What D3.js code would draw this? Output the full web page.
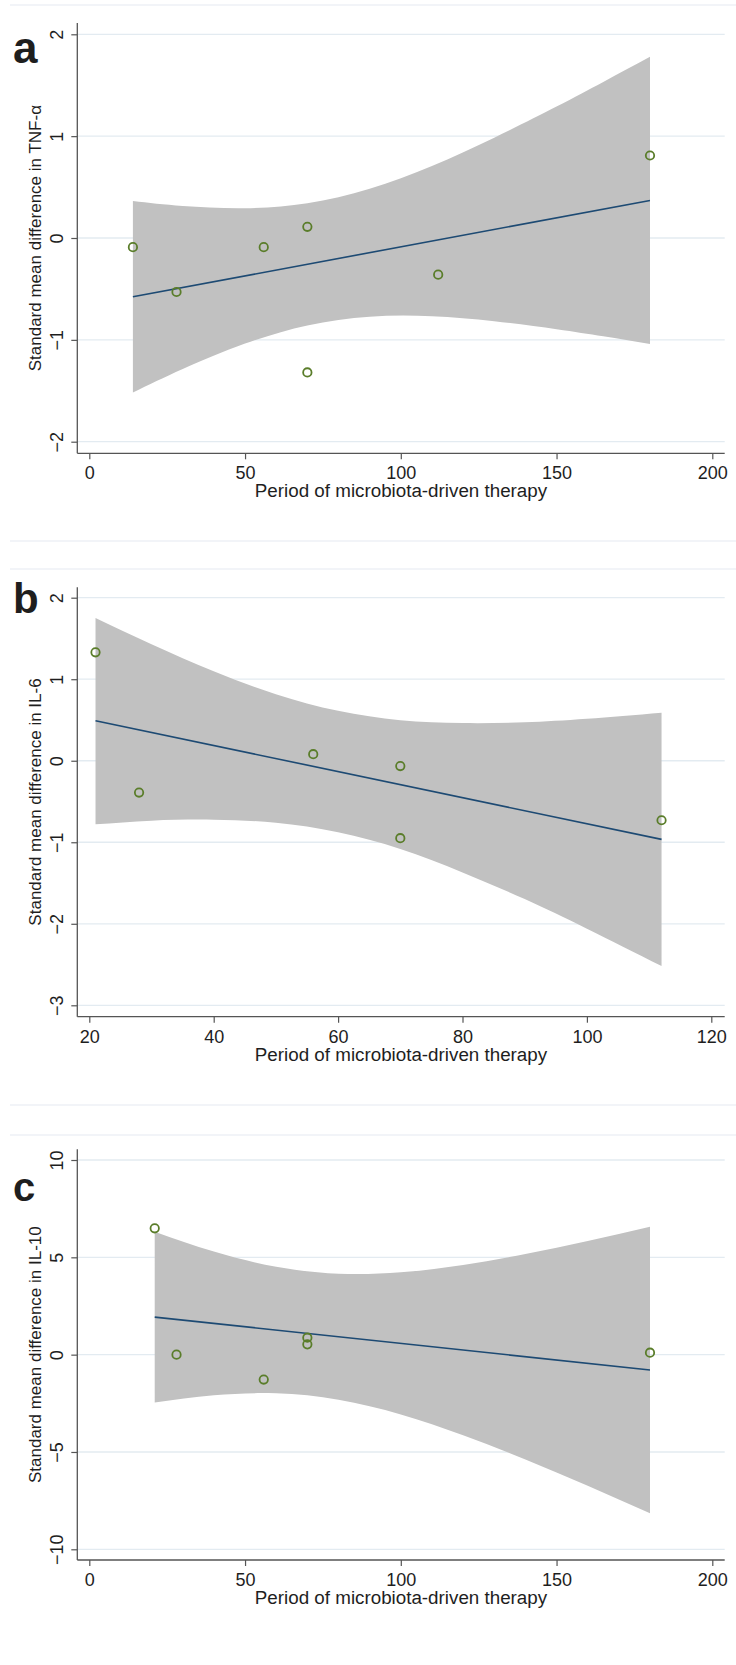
<!DOCTYPE html>
<html>
<head>
<meta charset="utf-8">
<script src="https://cdn.jsdelivr.net/npm/d3@7"></script>
<style>
  body { margin: 0; background: #fff; }
  text { font-family: "Liberation Sans", Arial, sans-serif; fill: #1e1e1e; }
</style>
</head>
<body>
<svg id="chart"></svg>
<script>
// Dimensions
var w = 736;
var h = 1665;

// Panel a: TNF-alpha
var tnfPeriod = [14, 28, 56, 70, 70, 112, 180];
var tnfSmd = [-0.09, -0.53, -0.09, 0.11, -1.32, -0.36, 0.81];
var tnfFitX = [14, 180];
var tnfFitY = [-0.577, 0.369];
var tnfBandX = [14, 30, 50, 70, 90, 110, 130, 150, 165, 180];
var tnfBandUpper = [0.363, 0.314, 0.293, 0.342, 0.484, 0.708, 0.985, 1.291, 1.532, 1.779];
var tnfBandLower = [-1.517, -1.286, -1.037, -0.858, -0.772, -0.768, -0.817, -0.895, -0.965, -1.041];
var tnfXTicks = [0, 50, 100, 150, 200];
var tnfYTicks = [-2, -1, 0, 1, 2];

// Panel b: IL-6
var il6Period = [21, 28, 56, 70, 70, 112];
var il6Smd = [1.33, -0.39, 0.08, -0.065, -0.95, -0.73];
var il6FitX = [21, 112];
var il6FitY = [0.491, -0.965];
var il6BandX = [21, 30, 40, 50, 60, 70, 80, 90, 100, 112];
var il6BandUpper = [1.75, 1.429, 1.097, 0.816, 0.612, 0.497, 0.462, 0.471, 0.514, 0.589];
var il6BandLower = [-0.78, -0.735, -0.723, -0.762, -0.878, -1.083, -1.37, -1.697, -2.06, -2.519];
var il6XTicks = [20, 40, 60, 80, 100, 120];
var il6YTicks = [-3, -2, -1, 0, 1, 2];

// Panel c: IL-10
var il10Period = [21, 28, 56, 70, 70, 180];
var il10Smd = [6.49, 0.0, -1.28, 0.87, 0.53, 0.10];
var il10FitX = [21, 180];
var il10FitY = [1.93, -0.79];
var il10BandX = [21, 40, 60, 80, 100, 120, 140, 160, 180];
var il10BandUpper = [6.315, 5.294, 4.514, 4.157, 4.229, 4.608, 5.172, 5.84, 6.57];
var il10BandLower = [-2.455, -2.084, -1.988, -2.315, -3.071, -4.136, -5.384, -6.736, -8.15];
var il10XTicks = [0, 50, 100, 150, 200];
var il10YTicks = [-10, -5, 0, 5, 10];

var xTitle = "Period of microbiota-driven therapy";

var svg = d3.select('#chart')
    .attr('width', w)
    .attr('height', h);

svg.append('rect').attr('width', w).attr('height', h).attr('fill', '#fff');

// faint separator lines between the stacked figures
[5, 541, 569, 1105, 1135].forEach(function (y) {
    svg.append('line')
        .attr('x1', 10).attr('x2', w)
        .attr('y1', y).attr('y2', y)
        .attr('stroke', '#eef1f6')
        .attr('stroke-width', 1.5);
});

function drawPanel(p) {
    var x = d3.scaleLinear().domain(p.xDomain).range(p.xRange);
    var y = d3.scaleLinear().domain(p.yDomain).range(p.yRange);
    var g = svg.append('g');

    // gridlines
    g.selectAll('.grid').data(p.yTicks).enter()
        .append('line')
        .attr('x1', p.left).attr('x2', p.right)
        .attr('y1', function (d) { return y(d); })
        .attr('y2', function (d) { return y(d); })
        .attr('stroke', '#e3ebf1')
        .attr('stroke-width', 1.3);

    // confidence band
    var band = p.bandX.map(function (v, i) {
        return { x: v, hi: p.bandUpper[i], lo: p.bandLower[i] };
    });
    var area = d3.area()
        .x(function (d) { return x(d.x); })
        .y0(function (d) { return y(d.lo); })
        .y1(function (d) { return y(d.hi); })
        .curve(d3.curveNatural);
    g.append('path').datum(band).attr('d', area).attr('fill', '#c1c1c1');

    // fitted line
    var line = d3.line()
        .x(function (d) { return x(d[0]); })
        .y(function (d) { return y(d[1]); });
    g.append('path')
        .datum(d3.zip(p.fitX, p.fitY))
        .attr('d', line)
        .attr('fill', 'none')
        .attr('stroke', '#1d4a73')
        .attr('stroke-width', 1.6);

    // points
    g.selectAll('.pt').data(d3.zip(p.px, p.py)).enter()
        .append('circle')
        .attr('cx', function (d) { return x(d[0]); })
        .attr('cy', function (d) { return y(d[1]); })
        .attr('r', 4.2)
        .attr('fill', 'none')
        .attr('stroke', '#5a7d2a')
        .attr('stroke-width', 1.8);

    // y axis
    var yAxis = g.append('g')
        .attr('transform', 'translate(' + p.left + ',0)')
        .call(d3.axisLeft(y).tickValues(p.yTicks).tickSize(6).tickFormat(d3.format('d')));
    yAxis.select('.domain').remove();
    yAxis.selectAll('line').attr('stroke', '#555').attr('stroke-width', 1.2);
    yAxis.selectAll('text')
        .attr('transform', 'rotate(-90)')
        .attr('x', 0).attr('y', -14).attr('dy', null)
        .attr('text-anchor', 'middle')
        .style('font-size', '18px')
        .style('font-family', '"Liberation Sans", Arial, sans-serif')
        .attr('fill', '#1e1e1e');

    // x axis
    var xAxis = g.append('g')
        .attr('transform', 'translate(0,' + p.bottom + ')')
        .call(d3.axisBottom(x).tickValues(p.xTicks).tickSize(6).tickFormat(d3.format('d')));
    xAxis.select('.domain').remove();
    xAxis.selectAll('line').attr('stroke', '#555').attr('stroke-width', 1.2);
    xAxis.selectAll('text')
        .attr('y', 26).attr('dy', null)
        .style('font-size', '18px')
        .style('font-family', '"Liberation Sans", Arial, sans-serif')
        .attr('fill', '#1e1e1e');

    // axis lines
    g.append('line')
        .attr('x1', p.left).attr('x2', p.left)
        .attr('y1', p.top).attr('y2', p.bottom)
        .attr('stroke', '#555').attr('stroke-width', 1.3);
    g.append('line')
        .attr('x1', p.left).attr('x2', p.right)
        .attr('y1', p.bottom).attr('y2', p.bottom)
        .attr('stroke', '#555').attr('stroke-width', 1.3);

    // titles
    g.append('text')
        .attr('x', (p.left + p.right) / 2)
        .attr('y', p.bottom + 44)
        .attr('text-anchor', 'middle')
        .style('font-size', '18.8px')
        .text(xTitle);
    g.append('text')
        .attr('transform', 'translate(41,' + (p.top + p.bottom) / 2 + ')rotate(-90)')
        .attr('text-anchor', 'middle')
        .style('font-size', '17px')
        .text(p.yTitle);

    // panel letter
    g.append('text')
        .attr('x', 13).attr('y', p.letterY)
        .style('font-size', p.letterSize + 'px')
        .style('font-weight', 'bold')
        .attr('fill', '#000')
        .text(p.letter);
}

drawPanel({
    letter: 'a', letterY: 63, letterSize: 44,
    top: 23, bottom: 453.3, left: 77.3, right: 724.7,
    xDomain: [0, 200], xRange: [89.3, 712.3],
    yDomain: [-2, 2], yRange: [441.7, 34.3],
    xTicks: tnfXTicks, yTicks: tnfYTicks,
    px: tnfPeriod, py: tnfSmd,
    fitX: tnfFitX, fitY: tnfFitY,
    bandX: tnfBandX, bandUpper: tnfBandUpper, bandLower: tnfBandLower,
    yTitle: 'Standard mean difference in TNF-α'
});

drawPanel({
    letter: 'b', letterY: 613, letterSize: 42,
    top: 587.3, bottom: 1016.7, left: 77.3, right: 724.7,
    xDomain: [20, 120], xRange: [89.3, 711.3],
    yDomain: [-3, 2], yRange: [1005.3, 597.7],
    xTicks: il6XTicks, yTicks: il6YTicks,
    px: il6Period, py: il6Smd,
    fitX: il6FitX, fitY: il6FitY,
    bandX: il6BandX, bandUpper: il6BandUpper, bandLower: il6BandLower,
    yTitle: 'Standard mean difference in IL-6'
});

drawPanel({
    letter: 'c', letterY: 1201, letterSize: 40,
    top: 1149.3, bottom: 1560, left: 77.3, right: 724.7,
    xDomain: [0, 200], xRange: [89.3, 712.3],
    yDomain: [-10, 10], yRange: [1549.3, 1160],
    xTicks: il10XTicks, yTicks: il10YTicks,
    px: il10Period, py: il10Smd,
    fitX: il10FitX, fitY: il10FitY,
    bandX: il10BandX, bandUpper: il10BandUpper, bandLower: il10BandLower,
    yTitle: 'Standard mean difference in IL-10'
});
</script>
</body>
</html>
